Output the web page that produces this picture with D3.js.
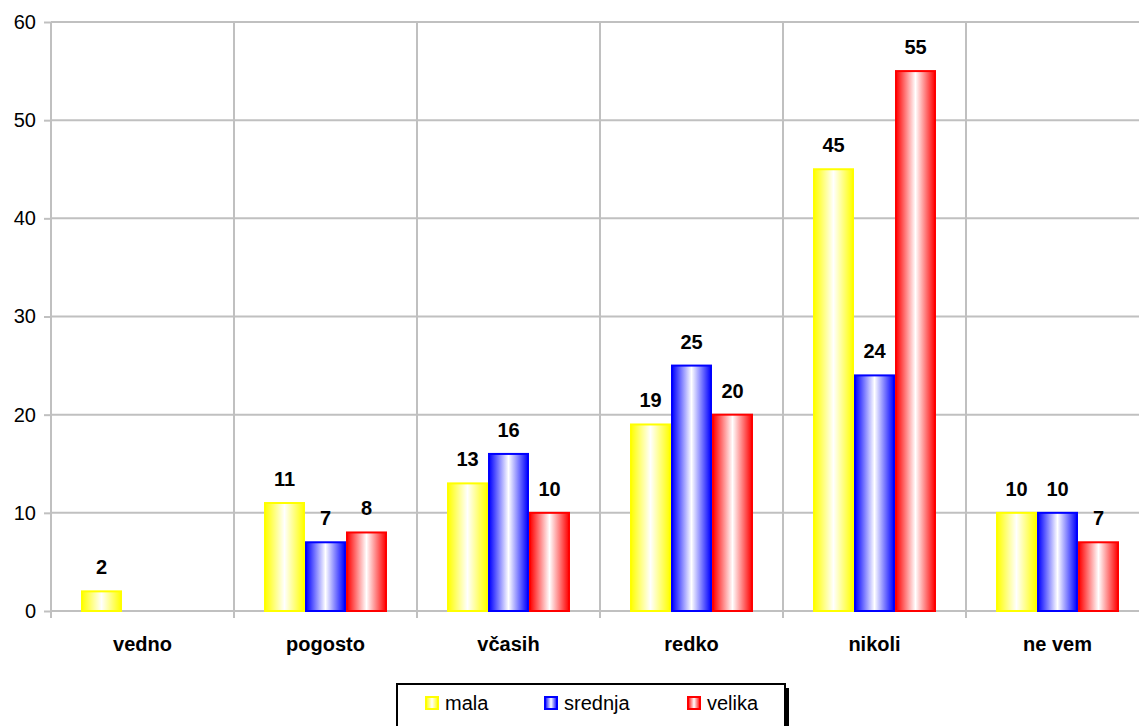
<!DOCTYPE html>
<html><head><meta charset="utf-8">
<script src="https://cdn.jsdelivr.net/npm/d3@7"></script>
<style>body{margin:0;background:#fff;}svg{display:block;font-family:Arial,"Liberation Sans",sans-serif;}</style>
</head><body><svg id="c" width="1139" height="726"></svg>
<script>
const categories = ["vedno","pogosto","včasih","redko","nikoli","ne vem"];
const seriesNames = ["mala","srednja","velika"];
const mala = [2,11,13,19,45,10];
const srednja = [null,7,16,25,24,10];
const velika = [null,8,10,20,55,7];
const yTicks = [0,10,20,30,40,50,60];
const colors = ["#ffff00","#0000ff","#ff0000"];
const seriesVals = [mala, srednja, velika];

const svg = d3.select("#c");
const x0 = 51, catW = 183;
const x = d3.scaleBand().domain(categories).range([x0, x0 + catW*categories.length]).paddingInner(0).paddingOuter(0);
const y = d3.scaleLinear().domain([0,60]).range([611,22]);
const xs = d3.scaleBand().domain(seriesNames).range([30, catW-30]).padding(0);
const FS = 20;

const defs = svg.append("defs");
colors.forEach((c,i)=>{
  const g = defs.append("linearGradient").attr("id","g"+i).attr("x1","0").attr("x2","1").attr("y1","0").attr("y2","0");
  g.append("stop").attr("offset","0").attr("stop-color",c);
  g.append("stop").attr("offset","0.5").attr("stop-color","#fff");
  g.append("stop").attr("offset","1").attr("stop-color",c);
});

// horizontal gridlines
svg.append("g").selectAll("line").data(yTicks.filter(d=>d>0)).join("line")
  .attr("x1",x0).attr("x2",1139).attr("y1",d=>y(d)).attr("y2",d=>y(d))
  .attr("stroke","#c0c0c0").attr("stroke-width",2);
// vertical gridlines
svg.append("g").selectAll("line").data(categories.slice(1)).join("line")
  .attr("x1",d=>x(d)).attr("x2",d=>x(d)).attr("y1",y(60)).attr("y2",y(0))
  .attr("stroke","#c0c0c0").attr("stroke-width",2);

// y axis
const yAxis = d3.axisLeft(y).tickValues(yTicks).tickSize(7).tickPadding(8);
const ga = svg.append("g").attr("transform",`translate(${x0},0)`).call(yAxis);
ga.select(".domain").attr("stroke","#c0c0c0").attr("stroke-width",2).attr("d",`M0,${y(60)}V${y(0)}`);
ga.selectAll(".tick line").attr("stroke","#c0c0c0").attr("stroke-width",2);
ga.selectAll(".tick text").attr("font-size",FS).attr("fill","#000").attr("font-family","Arial, Liberation Sans, sans-serif");

// x axis
svg.append("line").attr("x1",x0).attr("x2",1139).attr("y1",y(0)).attr("y2",y(0)).attr("stroke","#c0c0c0").attr("stroke-width",2);
svg.append("g").selectAll("line").data(categories).join("line")
  .attr("x1",d=>x(d)).attr("x2",d=>x(d)).attr("y1",y(0)).attr("y2",y(0)+7)
  .attr("stroke","#c0c0c0").attr("stroke-width",2);
svg.append("g").selectAll("text").data(categories).join("text")
  .attr("x",d=>x(d)+catW/2).attr("y",651).attr("text-anchor","middle")
  .attr("font-size",FS).attr("font-weight","bold").text(d=>d);

// bars
seriesNames.forEach((s,i)=>{
  const data = categories.map((c,j)=>({c, v: seriesVals[i][j]})).filter(d=>d.v!=null);
  svg.append("g").selectAll("rect").data(data).join("rect")
    .attr("x",d=>x(d.c)+xs(s)+1).attr("width",xs.bandwidth()-2)
    .attr("y",d=>y(d.v)).attr("height",d=>y(0)-y(d.v))
    .attr("fill",`url(#g${i})`).attr("stroke",colors[i]).attr("stroke-width",2);
  svg.append("g").selectAll("text").data(data).join("text")
    .attr("x",d=>x(d.c)+xs(s)+xs.bandwidth()/2).attr("y",d=>y(d.v)-17)
    .attr("text-anchor","middle").attr("font-size",FS).attr("font-weight","bold").text(d=>d.v);
});

// legend
const lg = svg.append("g");
lg.append("rect").attr("x",401).attr("y",688).attr("width",388).attr("height",44).attr("fill","#000");
lg.append("rect").attr("x",397).attr("y",684).attr("width",388).attr("height",44).attr("fill","#fff").attr("stroke","#000").attr("stroke-width",2);
const lx = [425,544,687];
seriesNames.forEach((s,i)=>{
  lg.append("rect").attr("x",lx[i]+1).attr("y",697).attr("width",12).attr("height",12)
    .attr("fill",`url(#g${i})`).attr("stroke",colors[i]).attr("stroke-width",2);
  lg.append("text").attr("x",lx[i]+20).attr("y",710).attr("font-size",FS).text(s);
});
</script></body></html>
